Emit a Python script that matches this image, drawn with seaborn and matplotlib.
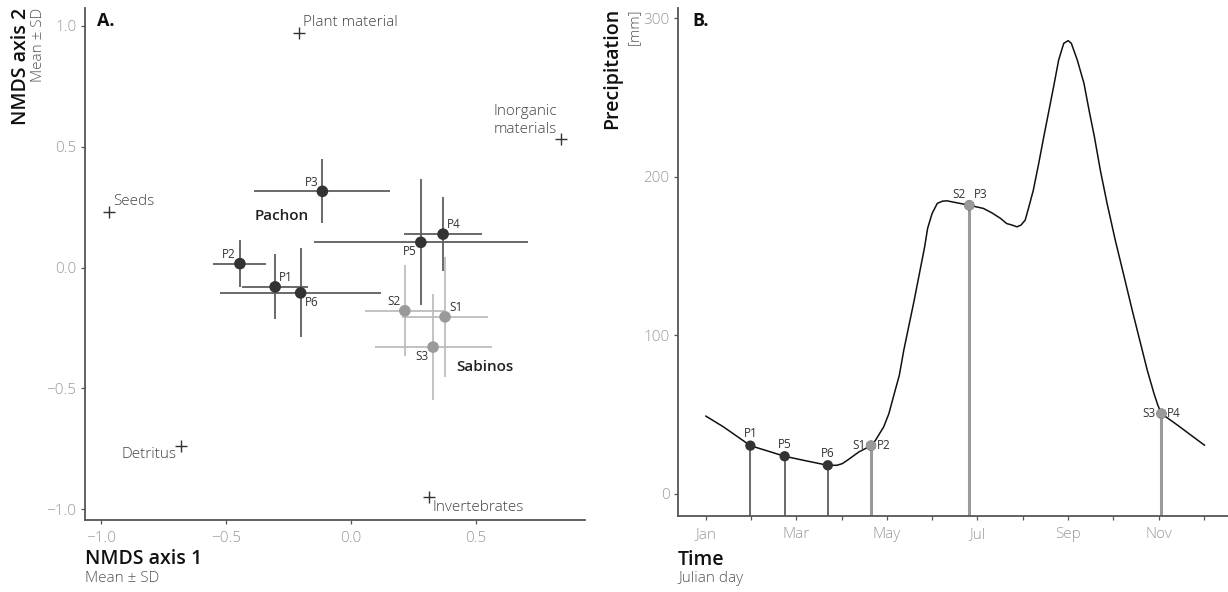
import matplotlib
matplotlib.use("Agg")
import matplotlib.pyplot as plt
import seaborn as sns
import numpy as np
import pandas as pd

# ---------------- data: panel A (NMDS) ----------------
pachon_sites = ["P1", "P2", "P3", "P4", "P5", "P6"]
pachon_x = [-0.302, -0.443, -0.113, 0.370, 0.281, -0.200]
pachon_y = [-0.080, 0.016, 0.315, 0.138, 0.104, -0.105]
pachon_xsd = [0.131, 0.106, 0.272, 0.155, 0.428, 0.323]
pachon_ysd = [0.134, 0.098, 0.132, 0.152, 0.261, 0.184]

sabinos_sites = ["S1", "S2", "S3"]
sabinos_x = [0.378, 0.217, 0.330]
sabinos_y = [-0.204, -0.179, -0.329]
sabinos_xsd = [0.173, 0.158, 0.234]
sabinos_ysd = [0.249, 0.188, 0.218]

food_items = ["Plant material", "Inorganic\nmaterials", "Seeds", "Detritus", "Invertebrates"]
food_x = [-0.206, 0.843, -0.967, -0.679, 0.315]
food_y = [0.971, 0.530, 0.230, -0.737, -0.950]

# ---------------- data: panel B (precipitation) ----------------
curve_day = [1, 13, 31, 54, 69, 83, 89, 92.6, 96, 103.8, 112, 115, 120.5, 124,
             127, 131, 134, 141, 148, 150, 153, 156.5, 160, 163, 170, 178,
             187.5, 193, 199, 203, 206.7, 210, 212.7, 215.5, 218, 221, 224.6,
             228, 231.3, 234.6, 238, 241.4, 244.4, 246.5, 250.5, 255, 258.4,
             262, 266, 270.5, 276, 282, 287.4, 293, 297.5, 302, 304.6, 307,
             318, 336]
curve_mm = [49.0, 42.1, 30.3, 23.6, 20.6, 17.9, 17.9, 18.9, 21.0, 26.3, 30.3,
            33.7, 42.1, 50.5, 61.0, 74.7, 90.5, 122.1, 155.7, 167.4, 176.8,
            183.2, 184.6, 184.8, 183.5, 182.0, 180.0, 177.3, 173.7, 170.5,
            169.5, 168.4, 169.5, 172.6, 181.0, 191.6, 208.4, 225.2, 241.0,
            256.8, 273.7, 284.2, 285.9, 284.2, 273.7, 258.9, 242.0, 225.2,
            204.0, 183.2, 160.0, 136.8, 115.7, 94.7, 77.9, 63.2, 55.8, 50.5,
            43.1, 30.5]

pachon_day = [31, 112, 178, 307, 54, 83]      # P1..P6 sampling dates
pachon_mm = [30.3, 30.3, 182.0, 50.5, 23.6, 17.9]
sabinos_day = [112, 178, 307]                  # S1..S3
sabinos_mm = [30.3, 182.0, 50.5]

month_labels = ["Jan", "", "Mar", "", "May", "", "Jul", "", "Sep", "", "Nov", ""]

# ---------------- style ----------------
sns.set_theme(style="white")
plt.rcParams["font.family"] = ["Open Sans", "DejaVu Sans"]
plt.rcParams["axes.unicode_minus"] = True

DARK = "#333333"
DARK_ERR = "#5e5e5e"
LIGHT = "#9a9a9a"
LIGHT_ERR = "#bdbdbd"
SPINE = "#555555"
TICKLAB = "#9a9a9a"

W, H = 1228, 592
fig = plt.figure(figsize=(W / 100, H / 100), dpi=100)
axA = fig.add_axes([85 / W, 1 - 520 / H, 500 / W, 512 / H])
axB = fig.add_axes([678 / W, 1 - 516 / H, 550 / W, 508 / H])


def style_axes(ax):
    for s in ["top", "right"]:
        ax.spines[s].set_visible(False)
    for s in ["left", "bottom"]:
        ax.spines[s].set_color(SPINE)
        ax.spines[s].set_linewidth(1.3)
    ax.tick_params(axis="both", which="both", length=3, width=0.9, color=SPINE,
                   labelcolor=TICKLAB, labelsize=11, pad=3, direction="out",
                   bottom=True, left=True)
    for lab in ax.get_xticklabels() + ax.get_yticklabels():
        lab.set_fontweight("light")
    ax.grid(False)


# ---------------- panel A ----------------
dfP = pd.DataFrame({"site": pachon_sites, "x": pachon_x, "y": pachon_y,
                    "xsd": pachon_xsd, "ysd": pachon_ysd})
dfS = pd.DataFrame({"site": sabinos_sites, "x": sabinos_x, "y": sabinos_y,
                    "xsd": sabinos_xsd, "ysd": sabinos_ysd})
dfF = pd.DataFrame({"item": food_items, "x": food_x, "y": food_y})

axA.errorbar(dfS["x"], dfS["y"], xerr=dfS["xsd"], yerr=dfS["ysd"], fmt="none",
             ecolor=LIGHT_ERR, elinewidth=1.3, capsize=0, zorder=1)
axA.errorbar(dfP["x"], dfP["y"], xerr=dfP["xsd"], yerr=dfP["ysd"], fmt="none",
             ecolor=DARK_ERR, elinewidth=1.3, capsize=0, zorder=2)
sns.scatterplot(data=dfS, x="x", y="y", ax=axA, color=LIGHT, s=70,
                edgecolor="none", zorder=3, legend=False)
sns.scatterplot(data=dfP, x="x", y="y", ax=axA, color=DARK, s=70,
                edgecolor="none", zorder=4, legend=False)
sns.scatterplot(data=dfF, x="x", y="y", ax=axA, marker="+", color=DARK, s=70,
                linewidth=1.0, zorder=4, legend=False)

lab_off = {"P1": (3, 2, "left", "bottom"), "P2": (-3, 2, "right", "bottom"),
           "P3": (-3, 2, "right", "bottom"), "P4": (3, 2, "left", "bottom"),
           "P5": (-3, -2, "right", "top"), "P6": (3, -2, "left", "top"),
           "S1": (3, 2, "left", "bottom"), "S2": (-3, 2, "right", "bottom"),
           "S3": (-3, -2, "right", "top")}
for df in (dfP, dfS):
    for _, r in df.iterrows():
        dx, dy, ha, va = lab_off[r["site"]]
        axA.annotate(r["site"], (r["x"], r["y"]), xytext=(dx, dy),
                     textcoords="offset points", ha=ha, va=va, fontsize=8.5,
                     color="#333333", zorder=5)

food_off = {"Plant material": (3, 2, "left", "bottom"),
            "Inorganic\nmaterials": (-3, 2, "right", "bottom"),
            "Seeds": (3, 2, "left", "bottom"),
            "Detritus": (-3, -1, "right", "top"),
            "Invertebrates": (2, -2, "left", "top")}
for _, r in dfF.iterrows():
    dx, dy, ha, va = food_off[r["item"]]
    axA.annotate(r["item"], (r["x"], r["y"]), xytext=(dx, dy),
                 textcoords="offset points", ha=ha, va=va, fontsize=11,
                 fontweight="light", color="#444444", linespacing=1.25,
                 multialignment="left")

axA.text(-0.276, 0.213, "Pachon", ha="center", va="center", fontsize=11,
         fontweight="semibold", color="#222222")
axA.text(0.538, -0.410, "Sabinos", ha="center", va="center", fontsize=11,
         fontweight="semibold", color="#222222")

axA.set_xlim(-1.063, 0.938)
axA.set_ylim(-1.044, 1.073)
axA.set_xticks([-1.0, -0.5, 0.0, 0.5])
axA.set_yticks([-1.0, -0.5, 0.0, 0.5, 1.0])
axA.set_xticklabels(["\u22121.0", "\u22120.5", "0.0", "0.5"])
axA.set_yticklabels(["\u22121.0", "\u22120.5", "0.0", "0.5", "1.0"])
axA.set_xlabel("")
axA.set_ylabel("")
style_axes(axA)
axA.text(12 / 500, 1 - 13 / 512, "A.", transform=axA.transAxes, ha="left",
         va="center", fontsize=13, fontweight="bold", color="#111111")

# ---------------- panel B ----------------
dfC = pd.DataFrame({"day": curve_day, "mm": curve_mm})
ybot = -14.1
for d, v in zip(pachon_day, pachon_mm):
    axB.plot([d, d], [ybot, v], color=DARK_ERR, lw=1.3, zorder=1,
             solid_capstyle="butt")
for d, v in zip(sabinos_day, sabinos_mm):
    axB.plot([d, d], [ybot, v], color=LIGHT, lw=2.2, zorder=1.5,
             solid_capstyle="butt")
sns.lineplot(data=dfC, x="day", y="mm", ax=axB, color="#111111", lw=1.1,
             zorder=2)
dfPd = pd.DataFrame({"site": pachon_sites, "day": pachon_day, "mm": pachon_mm})
dfSd = pd.DataFrame({"site": sabinos_sites, "day": sabinos_day, "mm": sabinos_mm})
sns.scatterplot(data=dfPd, x="day", y="mm", ax=axB, color=DARK, s=55,
                edgecolor="none", zorder=3, legend=False)
sns.scatterplot(data=dfSd, x="day", y="mm", ax=axB, color=LIGHT, s=55,
                edgecolor="none", zorder=4, legend=False)

b_off = {"P1": (0, 4, "center", "bottom"), "P5": (0, 4, "center", "bottom"),
         "P6": (0, 4, "center", "bottom"), "P2": (4, 0, "left", "center"),
         "P3": (3, 3, "left", "bottom"), "P4": (4, 0, "left", "center"),
         "S1": (-4, 0, "right", "center"), "S2": (-3, 3, "right", "bottom"),
         "S3": (-4, 0, "right", "center")}
for df in (dfPd, dfSd):
    for _, r in df.iterrows():
        dx, dy, ha, va = b_off[r["site"]]
        axB.annotate(r["site"], (r["day"], r["mm"]), xytext=(dx, dy),
                     textcoords="offset points", ha=ha, va=va, fontsize=8.5,
                     color="#333333", zorder=5)

month_ticks = np.arange(12) * 365 / 12 + 1
axB.set_xticks(month_ticks)
axB.set_xticklabels(month_labels)
axB.set_yticks([0, 100, 200, 300])
axB.set_xlim(-17.6, 351.7)
axB.set_ylim(ybot, 306.5)
axB.set_xlabel("")
axB.set_ylabel("")
style_axes(axB)
axB.tick_params(axis="x", pad=5)
axA.tick_params(axis="x", pad=5)
axB.text(14 / 550, 1 - 13 / 508, "B.", transform=axB.transAxes, ha="left",
         va="center", fontsize=13, fontweight="bold", color="#111111")

# ---------------- axis titles ----------------
def fx(px):
    return px / W


def fy(py):
    return 1 - py / H


fig.text(fx(21), fy(8), "NMDS axis 2", rotation=90, ha="center", va="top",
         fontsize=14, fontweight="semibold", color="#111111")
fig.text(fx(38), fy(8), "Mean \u00b1 SD", rotation=90, ha="center", va="top",
         fontsize=11, fontweight="light", color="#555555")
fig.text(fx(85), fy(559), "NMDS axis 1", ha="left", va="center",
         fontsize=14, fontweight="semibold", color="#111111")
fig.text(fx(85), fy(579), "Mean \u00b1 SD", ha="left", va="center",
         fontsize=11, fontweight="light", color="#555555")

fig.text(fx(612), fy(8), "Precipitation", rotation=90, ha="center", va="top",
         fontsize=14, fontweight="semibold", color="#111111")
fig.text(fx(634), fy(8), "[mm]", rotation=90, ha="center", va="top",
         fontsize=11, fontweight="light", color="#555555")
fig.text(fx(678), fy(560), "Time", ha="left", va="center",
         fontsize=14, fontweight="semibold", color="#111111")
fig.text(fx(678), fy(579), "Julian day", ha="left", va="center",
         fontsize=11, fontweight="light", color="#555555")

fig.savefig("out.png", dpi=100)
